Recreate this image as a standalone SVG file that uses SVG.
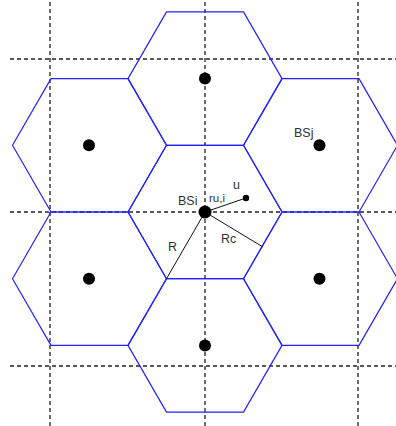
<svg xmlns="http://www.w3.org/2000/svg" xmlns:xlink="http://www.w3.org/1999/xlink" width="396" height="426" viewBox="0 0 396 426">
<style>
.grid{stroke:#222;stroke-width:1.3;stroke-dasharray:4 3;fill:none}
.hex{fill:none;stroke:#2222ff;stroke-width:1.2;stroke-linejoin:round}
.bs{fill:#000}
.ln{stroke:#111;stroke-width:1;fill:none}
.lbl{font-family:"Liberation Sans",Arial,sans-serif;font-size:12.5px;fill:#333}
.sm{font-size:11.5px}
</style>
<defs>
<polygon id="hx" class="hex" points="-77,0 -38.5,-66.7 38.5,-66.7 77,0 38.5,66.7 -38.5,66.7"/>
</defs>
<rect width="396" height="426" fill="#fff"/>
<g id="grid">
<line class="grid" x1="50" y1="2" x2="50" y2="426"/>
<line class="grid" x1="205" y1="2" x2="205" y2="426"/>
<line class="grid" x1="358" y1="2" x2="358" y2="426"/>
<line class="grid" x1="10" y1="59" x2="396" y2="59"/>
<line class="grid" x1="10" y1="212" x2="396" y2="212"/>
<line class="grid" x1="10" y1="366" x2="396" y2="366"/>
</g>
<g id="cell-i"><use xlink:href="#hx" x="205" y="212"/></g>
<g id="cell-n"><use xlink:href="#hx" x="205" y="78.6"/><circle class="bs" cx="205" cy="78.6" r="6"/></g>
<g id="cell-s"><use xlink:href="#hx" x="205" y="345.4"/><circle class="bs" cx="205" cy="345.4" r="6"/></g>
<g id="cell-nw"><use xlink:href="#hx" x="89.5" y="145.3"/><circle class="bs" cx="89" cy="145.3" r="6"/></g>
<g id="cell-sw"><use xlink:href="#hx" x="89.5" y="278.7"/><circle class="bs" cx="89" cy="278.7" r="6"/></g>
<g id="cell-j"><use xlink:href="#hx" x="320.5" y="145.3"/><circle class="bs" cx="319.5" cy="145.3" r="6"/><text class="lbl" x="294" y="137">BSj</text></g>
<g id="cell-se"><use xlink:href="#hx" x="320.5" y="278.7"/><circle class="bs" cx="319.5" cy="278.7" r="6"/></g>
<g id="connectors">
<line class="ln" x1="205" y1="212" x2="166.5" y2="278.7"/>
<line class="ln" x1="205" y1="212" x2="263" y2="247"/>
<line class="ln" x1="205" y1="212" x2="246" y2="198"/>
</g>
<g id="bsi">
<circle class="bs" cx="205" cy="212" r="6.5"/>
<text class="lbl" x="178" y="205">BSi</text>
<text class="lbl sm" x="209" y="202">ru,i</text>
</g>
<g id="user">
<circle class="bs" cx="246" cy="198" r="3.2"/>
<text class="lbl" x="233" y="189">u</text>
</g>
<text class="lbl" x="168" y="251">R</text>
<text class="lbl" x="221" y="243">Rc</text>
</svg>
